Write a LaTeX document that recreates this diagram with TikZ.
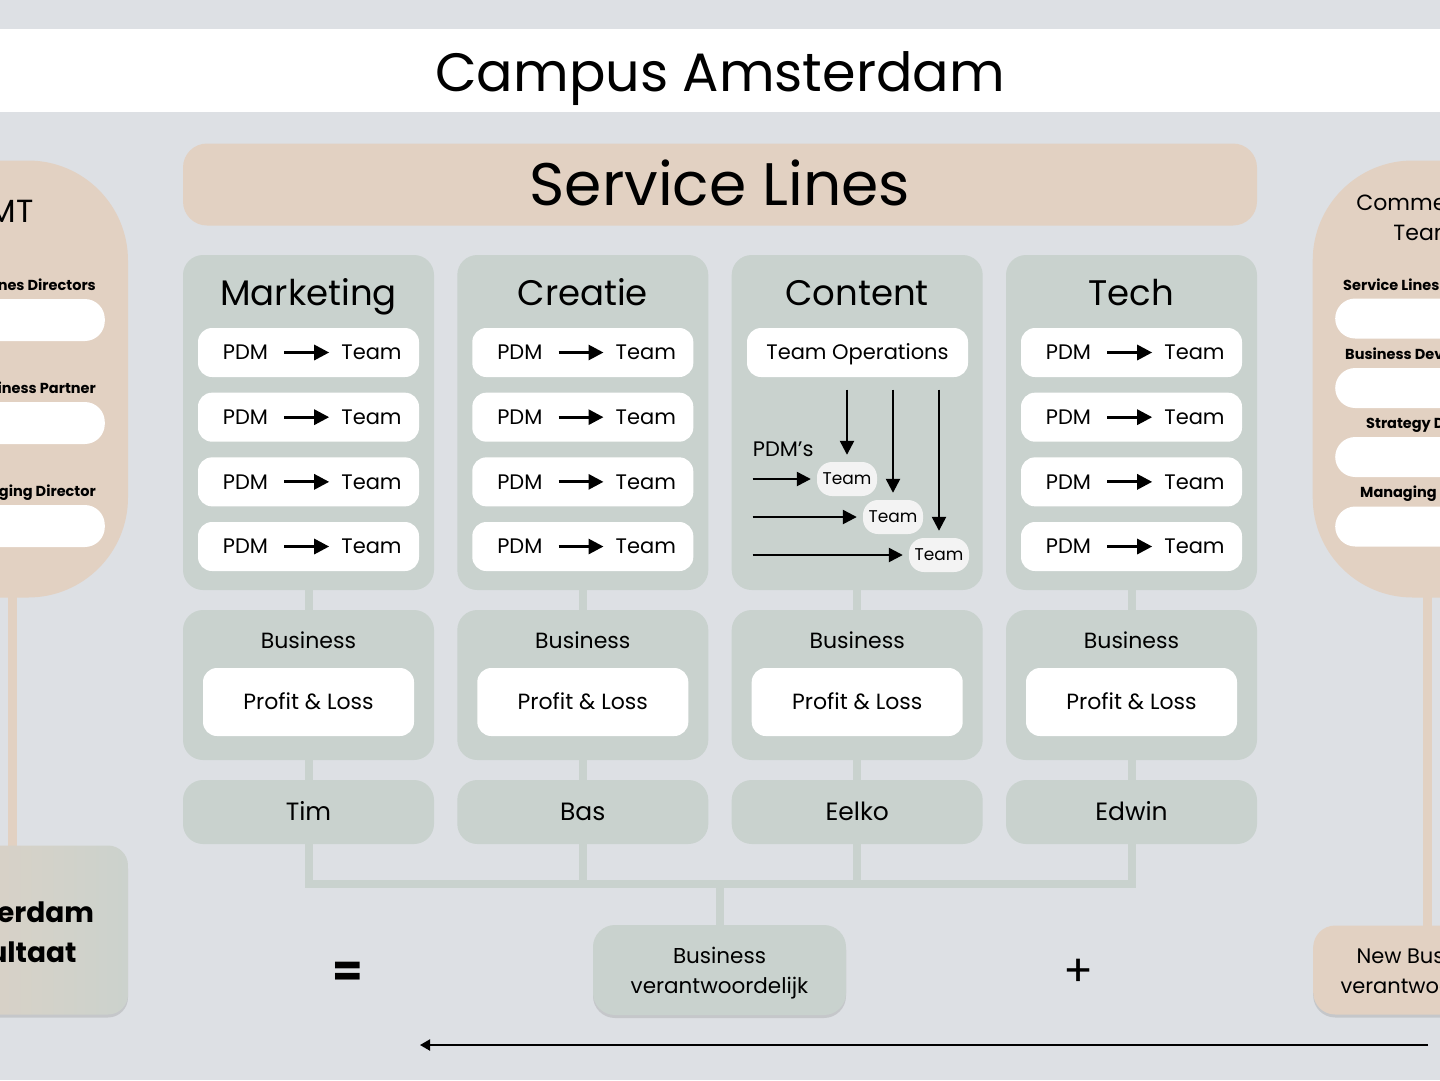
\documentclass[tikz,border=0pt]{standalone}
\usepackage{fontspec}
\setmainfont{Poppins}
\usetikzlibrary{arrows.meta,positioning,shadows,calc}

\definecolor{canvas}{RGB}{221,224,228}
\definecolor{sage}{RGB}{201,210,206}
\definecolor{sand}{RGB}{226,209,194}
\definecolor{pillgrey}{RGB}{243,243,243}

\newcommand{\fsz}[1]{\fontsize{#1}{#1}\selectfont}

\begin{document}
\begin{tikzpicture}[x=1pt,y=-1pt,
    txt/.style={inner sep=0pt,text depth=0pt,font=\fsz{#1},
        /utils/exec={\pgfmathsetmacro\capht{0.7*#1}},text height=\capht pt},
    panel/.style={fill=sage,rounded corners=20pt,inner sep=0pt,minimum width=251pt},
    rowbox/.style={fill=white,rounded corners=14pt,inner sep=0pt,minimum width=221pt,minimum height=49pt},
    card/.style={fill=white,rounded corners=14pt,inner sep=0pt,minimum width=211pt,minimum height=68pt},
    pill/.style={fill=pillgrey,rounded corners=15pt,minimum width=60pt,minimum height=34pt,txt=17},
    slot/.style={fill=white,rounded corners=20pt,inner sep=0pt,minimum width=260pt},
    bar/.style={draw=sage,line width=8pt},
    arr/.style={line width=3pt,-{Triangle[length=15pt,width=15pt]}},
    varr/.style={line width=2.4pt,-{Triangle[length=14pt,width=14pt]}},
    side/.style={txt=14.5,font=\fsz{14.5}\bfseries},
    shade/.style={drop shadow={opacity=.25,shadow xshift=0pt,shadow yshift=-3pt}}
]

\fill[canvas] (0,0) rectangle (1440,1080);
\useasboundingbox (0,0) rectangle (1440,1080);
\clip (0,0) rectangle (1440,1080);

% title
\node[fill=white,inner sep=0pt,minimum width=1440pt,minimum height=83pt] (band) at (720,70.5) {};
\node[txt=54] (title) at (720,72.5) {Campus Amsterdam};

\node[fill=sand,rounded corners=24pt,minimum width=1074pt,minimum height=82pt,txt=60] (lines) at (720,184.5) {Service Lines};

% left panel
\node[fill=sand,rounded corners=100pt,minimum width=340pt,minimum height=437pt] (mt) at (-42,379) {};
\node[txt=32,anchor=east] (mttitle) at (34,211.5) {MT};
\foreach \y/\t/\s [count=\k] in {285/Service Lines Directors/320,388/Business Partner/423,491/Managing Director/526}{
    \node[side,anchor=east] (mtlbl\k) at (96,\y) {\t};
    \node[slot,minimum height=42pt,anchor=east] (mtslot\k) at (105,\s) {};
}
\node[fill=sand,minimum width=9pt,minimum height=250pt,inner sep=0pt,anchor=north] (mtline) at (12.5,596) {};

\node[shade,left color=sand!95!sage,right color=sage!90!sand,rounded corners=20pt,
      minimum width=230pt,minimum height=169pt,inner sep=0pt] (result) at (13,930) {};
\node[font={\fontsize{28}{40}\bfseries},align=center,inner sep=0pt] (resulttxt) at (7,932) {Amsterdam\\Resultaat};

% right panel
\node[fill=sand,rounded corners=100pt,minimum width=340pt,minimum height=437pt,anchor=west] (com) at (1312.5,379) {};
\node[font={\fontsize{22}{30}\selectfont},align=center,inner sep=0pt] (comtitle) at (1425,217) {Commercial\\Team};
\foreach \x/\y/\t/\s [count=\k] in {1343/285/Service Lines Directors/318.5,1345/354/Business Development Director/388,1366/423/Strategy Director/457,1360/492/Managing Director/526.5}{
    \node[side,anchor=west] (comlbl\k) at (\x,\y) {\t};
    \node[slot,minimum height=40pt,anchor=west] (comslot\k) at (1335,\s) {};
}
\node[fill=sand,minimum width=9pt,minimum height=330pt,inner sep=0pt,anchor=north] (comline) at (1427,596) {};

\node[shade,fill=sand,rounded corners=22pt,minimum width=232pt,minimum height=89pt,
      anchor=west,inner sep=0pt] (newbiz) at (1313,970) {};
\node[font={\fontsize{21}{30}\selectfont},align=center,inner sep=0pt] (newbiztxt) at ($(newbiz.center)+(-2,3)$) {New Business\\verantwoordelijk};

% service line columns
\foreach \cx/\head/\who [count=\i] in {308.5/Marketing/Tim,582.8/Creatie/Bas,857.2/Content/Eelko,1131.5/Tech/Edwin}{
    \node[panel,minimum height=335pt] (top\i) at (\cx,422.5) {};
    \node[txt=35.5] (head\i) at (\cx,293.5) {\head};
    \node[panel,minimum height=150pt] (biz\i) at (\cx,685) {};
    \node[txt=22] (bizlbl\i) at (\cx,641) {Business};
    \node[card,txt=22] (pl\i) at (\cx,702) {Profit \& Loss};
    \node[panel,minimum height=64pt,txt=25] (who\i) at (\cx,812) {\who};
    \draw[bar] (top\i) -- (biz\i);
    \draw[bar] (biz\i) -- (who\i);
}

% PDM -> Team rows
\foreach \cx/\c in {308.5/1,582.8/2,1131.5/4}{
    \foreach \j in {1,...,4}{
        \pgfmathsetmacro\ry{352.5+64.67*(\j-1)}
        \node[rowbox] (row\c\j) at (\cx,\ry) {};
        \node[txt=21] (pdm\c\j) at ([xshift=-63pt]row\c\j.center) {PDM};
        \node[txt=21] (team\c\j) at ([xshift=63pt]row\c\j.center) {Team};
        \draw[arr,shorten <=16pt,shorten >=12pt] (pdm\c\j) -- (team\c\j);
    }
}

% content column
\node[rowbox,txt=21] (ops) at (857.5,352.5) {Team Operations};
\node[pill] (t1) at (847,479) {Team};
\node[pill] (t2) at (893,517) {Team};
\node[pill] (t3) at (939,555) {Team};
\node[txt=21,anchor=west] (pdms) at (752.7,449) {PDM’s};
\foreach \t in {t1,t2,t3}{
    \draw[varr,shorten <=12.5pt,shorten >=7pt] (\t |- ops.south) -- (\t);
    \draw[varr,shorten >=6pt] (pdms.west |- \t) -- (\t);
}

% business responsible
\node[shade,fill=sage,rounded corners=22pt,minimum width=253pt,minimum height=90pt,inner sep=0pt] (bv) at (719.5,970) {};
\node[font={\fontsize{21.5}{30}\selectfont},align=center,inner sep=0pt] (bvtxt) at ($(bv.center)+(0,3)$) {Business\\verantwoordelijk};
\foreach \i in {1,...,4}{
    \draw[bar] (who\i.south) -- ++(0,40) -| (bv.north);
}

\node[txt=44,font=\fsz{44}\bfseries] (eq) at (348,971) {=};
\node[txt=44] (plus) at (1079,971) {+};

% timeline
\coordinate (tlstart) at (1428,1045);
\coordinate (tlend) at (420,1045);
\draw[line width=2pt,-{Triangle[length=10pt,width=11pt]}] (tlstart) -- (tlend);

\end{tikzpicture}
\end{document}
